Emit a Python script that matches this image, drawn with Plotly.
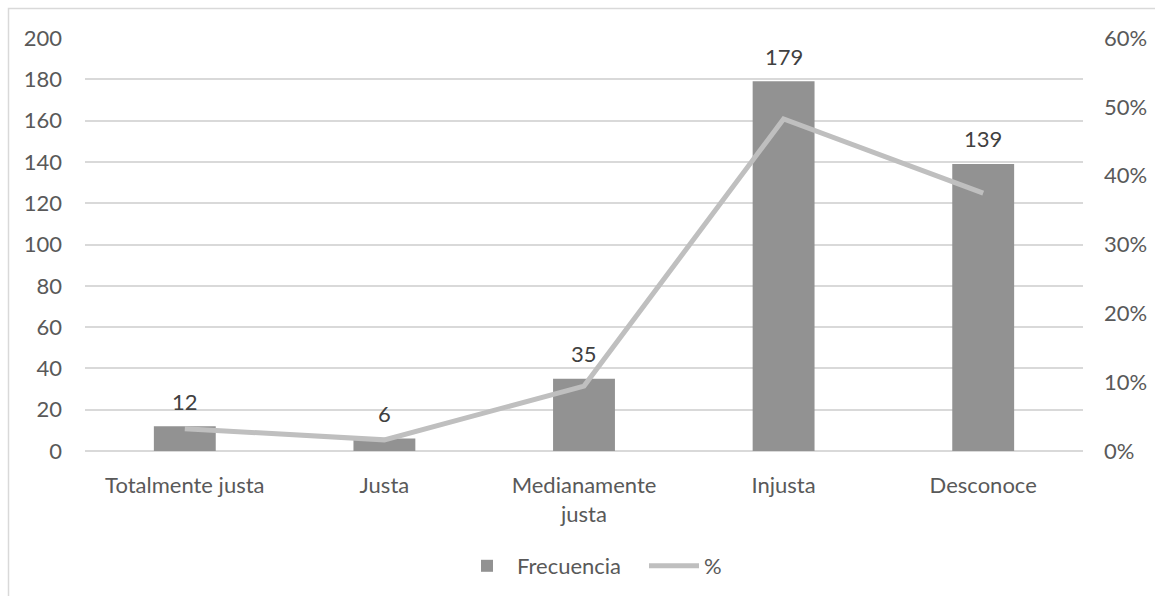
import plotly.graph_objects as go

categorias = ["Totalmente justa", "Justa", "Medianamente<br>justa", "Injusta", "Desconoce"]
frecuencia = [12, 6, 35, 179, 139]
total = sum(frecuencia)
porcentaje = [f / total for f in frecuencia]

W, H = 1155, 596
L, R, T, B = 85, 72, 38, 145
pw, ph = W - L - R, H - T - B

def px_x(x):
    return (x - L) / pw

def px_y(y):
    return (H - B - y) / ph

font_fam = "Lato, 'Open Sans', sans-serif"
txt = "#595959"
fs = 22

fig = go.Figure()
fig.add_trace(go.Bar(
    x=categorias, y=frecuencia, name="Frecuencia",
    marker=dict(color="#929292", line=dict(width=0)),
    width=0.31,
))
fig.add_trace(go.Scatter(
    x=categorias, y=porcentaje, name="%", yaxis="y2",
    mode="lines", line=dict(color="#BFBFBF", width=5),
))

# value labels above each bar
annotations = [
    dict(x=c, y=v, xref="x", yref="y", text=str(v), showarrow=False,
         yanchor="middle", yshift=25, font=dict(size=fs, color="#404040", family=font_fam))
    for c, v in zip(categorias, frecuencia)
]

fig.update_layout(
    width=W, height=H,
    margin=dict(l=L, r=R, t=T, b=B, autoexpand=False),
    paper_bgcolor="white", plot_bgcolor="white",
    font=dict(family=font_fam, size=fs, color=txt),
    showlegend=True,
    legend=dict(orientation="h", x=px_x(457), xanchor="left", y=px_y(566), yanchor="middle",
                font=dict(size=fs, color=txt), itemwidth=50, traceorder="normal",
                entrywidth=122, entrywidthmode="pixels"),
    xaxis=dict(showgrid=False, showline=False, ticks="", tickfont=dict(size=fs, color=txt),
               ticklabelstandoff=19, automargin=False),
    yaxis=dict(range=[0, 200], dtick=20, showgrid=True, gridcolor="#D9D9D9", gridwidth=1.5,
               zeroline=True, zerolinecolor="#D9D9D9", zerolinewidth=1.5,
               showline=False, ticks="", tickfont=dict(size=fs, color=txt),
               ticklabelstandoff=22, automargin=False),
    yaxis2=dict(range=[0, 0.6], dtick=0.1, tickformat=".0%", overlaying="y", side="right",
                showgrid=False, zeroline=False, showline=False, ticks="",
                tickfont=dict(size=fs, color=txt), ticklabelstandoff=20, automargin=False),
    annotations=annotations,
    shapes=[dict(type="rect", xref="paper", yref="paper",
                 x0=px_x(8.5), x1=px_x(1170), y0=px_y(610), y1=px_y(8.5),
                 line=dict(color="#D9D9D9", width=1.5), fillcolor="rgba(0,0,0,0)", layer="below")],
)

fig.write_html("out.html")
